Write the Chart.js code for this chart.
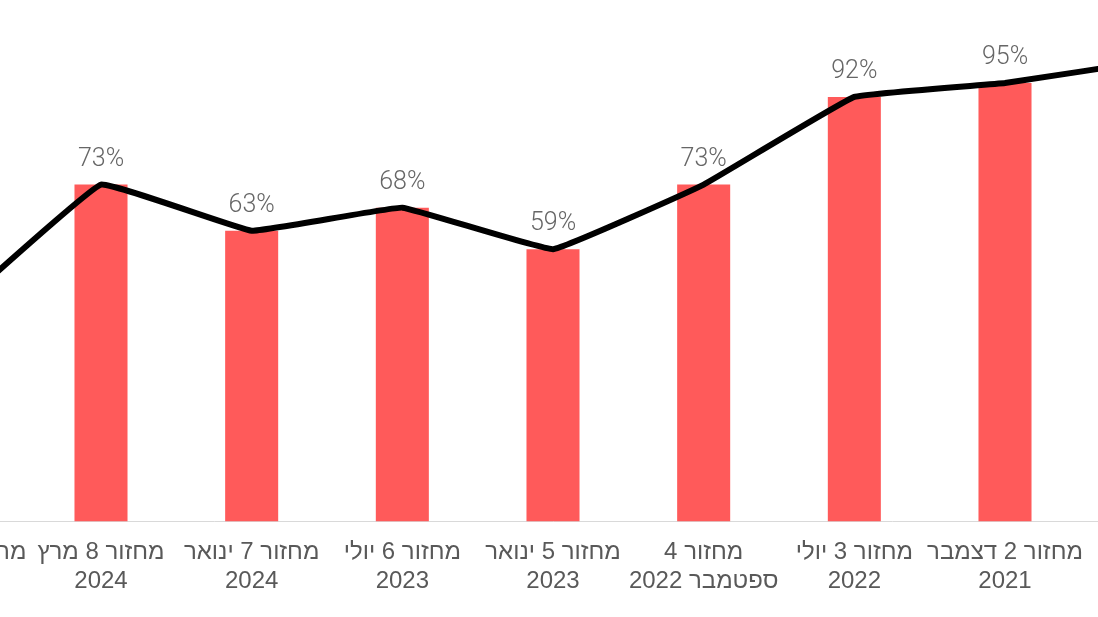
<!DOCTYPE html>
<html lang="he">
<head>
<meta charset="utf-8">
<script src="https://cdn.jsdelivr.net/npm/chart.js@4"></script>
<style>
  html, body { margin: 0; padding: 0; background: #fff; overflow: hidden; width: 1098px; height: 617px; }
  #wrap { position: absolute; left: -125px; top: 0; width: 1356px; height: 613px; }
</style>
</head>
<body>
<div id="wrap"><canvas id="myBarChart" dir="rtl"></canvas></div>
<script>
  // categories, left to right as drawn (the outer two are cut off by the frame)
  var cycleLabels = [
    ['מרץ 2025 — 9', ''],
    ['מחזור 8 מרץ', '2024'],
    ['מחזור 7 ינואר', '2024'],
    ['מחזור 6 יולי', '2023'],
    ['מחזור 5 ינואר', '2023'],
    ['מחזור 4', 'ספטמבר 2022'],
    ['מחזור 3 יולי', '2022'],
    ['מחזור 2 דצמבר', '2021'],
    ['מחזור 1', '2021']
  ];
  var rates = [45, 73, 63, 68, 59, 73, 92, 95, 100];

  var barLabels = {
    id: 'barLabels',
    afterDatasetsDraw: function (chart) {
      var ctx = chart.ctx;
      var meta = chart.getDatasetMeta(1);
      ctx.save();
      ctx.font = '300 25px Roboto, sans-serif';
      ctx.fillStyle = '#666666';
      ctx.textAlign = 'center';
      ctx.textBaseline = 'middle';
      meta.data.forEach(function (bar, i) {
        ctx.fillText(rates[i] + '%', bar.x, bar.y - 25);
      });
      ctx.restore();
    }
  };

  var ctx = document.getElementById('myBarChart');
  new Chart(ctx, {
    data: {
      labels: cycleLabels,
      datasets: [{
        type: 'line',
        data: rates,
        borderColor: '#000000',
        borderWidth: 6,
        pointRadius: 0,
        tension: 0.07,
        order: 0
      }, {
        type: 'bar',
        data: rates,
        backgroundColor: '#ff5a5a',
        barPercentage: 0.352,
        categoryPercentage: 1,
        order: 1
      }]
    },
    options: {
      responsive: true,
      maintainAspectRatio: false,
      animation: false,
      layout: { padding: 0 },
      scales: {
        x: {
          offset: true,
          grid: { display: false, drawTicks: false },
          border: { display: true, color: '#d9d9d9', width: 1 },
          ticks: {
            color: '#595959',
            font: { family: 'Arial, "Liberation Sans", sans-serif', size: 24 },
            padding: 17,
            maxRotation: 0,
            minRotation: 0,
            autoSkip: false
          },
          afterFit: function (scale) {
            // labels are cut by the frame anyway, don't let them shrink the plot
            scale.paddingLeft = 0;
            scale.paddingRight = 0;
          }
        },
        y: {
          display: false,
          min: 0,
          max: 113
        }
      },
      plugins: {
        legend: { display: false },
        tooltip: { enabled: false }
      }
    },
    plugins: [barLabels]
  });
</script>
</body>
</html>
